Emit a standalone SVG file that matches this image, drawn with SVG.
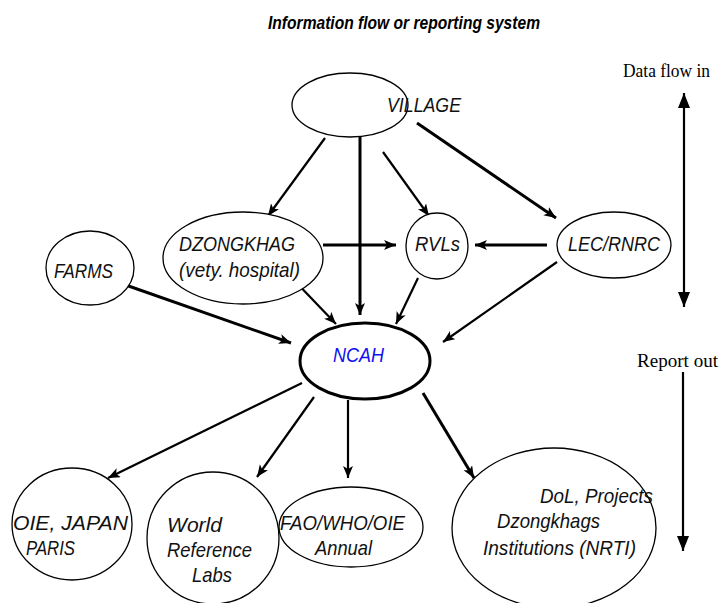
<svg xmlns="http://www.w3.org/2000/svg" width="721" height="603" viewBox="0 0 721 603">
<style>
.node{fill:#fff;stroke:#000;stroke-width:1.3}
.thick{fill:#fff;stroke:#000;stroke-width:3}
.lbl{font-family:"Liberation Sans",Arial,sans-serif;font-style:italic;font-size:21px;fill:#111}
.serif{font-family:"Liberation Serif","Times New Roman",serif;font-size:18px;fill:#000}
.title{font-family:"Liberation Sans",Arial,sans-serif;font-style:italic;font-weight:bold;font-size:18px;fill:#000}
.c{stroke:#000;stroke-width:2.2;fill:none;marker-end:url(#ah)}
.c3{stroke:#000;stroke-width:3;fill:none;marker-end:url(#ah)}
</style>
<defs>
<marker id="ah" markerUnits="userSpaceOnUse" markerWidth="14" markerHeight="12" refX="12" refY="5" orient="auto">
<path d="M0,0 L12,5 L0,10 L3,5 Z" fill="#000"/>
</marker>
<marker id="big" markerUnits="userSpaceOnUse" markerWidth="16" markerHeight="14" refX="15" refY="6" orient="auto-start-reverse">
<path d="M0,0 L15,6 L0,12 Z" fill="#000"/>
</marker>
</defs>
<rect width="721" height="603" fill="#fff"/>
<text class="title" x="268" y="29" textLength="272" lengthAdjust="spacingAndGlyphs">Information flow or reporting system</text>

<g id="connectors">
<line class="c" x1="325" y1="138" x2="268" y2="216"/>
<line class="c3" x1="360" y1="135" x2="360" y2="315"/>
<line class="c" x1="383" y1="152" x2="429" y2="216"/>
<line class="c3" x1="417" y1="123" x2="556" y2="218"/>
<line class="c3" x1="323" y1="245" x2="396" y2="245"/>
<line class="c3" x1="547" y1="245" x2="475" y2="245"/>
<line class="c3" x1="120" y1="283" x2="291" y2="343"/>
<line class="c" x1="290" y1="276" x2="336" y2="324"/>
<line class="c" x1="418" y1="278" x2="396" y2="324"/>
<line class="c" x1="557" y1="262" x2="443" y2="342"/>
<line class="c" x1="302" y1="383" x2="108" y2="478"/>
<line class="c" x1="314" y1="397" x2="257" y2="477"/>
<line class="c" x1="348" y1="400" x2="348" y2="478"/>
<line class="c3" x1="423" y1="393" x2="474" y2="478"/>
<line x1="684" y1="93" x2="684" y2="307" stroke="#000" stroke-width="2.2" marker-start="url(#big)" marker-end="url(#big)"/>
<line x1="683" y1="372" x2="683" y2="551" stroke="#000" stroke-width="2.2" marker-end="url(#big)"/>
</g>

<g id="village">
<ellipse class="node" cx="350" cy="105" rx="58" ry="32"/>
<text class="lbl" x="387" y="112" textLength="74" lengthAdjust="spacingAndGlyphs">VILLAGE</text>
</g>
<g id="dzongkhag">
<ellipse class="node" cx="243" cy="258" rx="80" ry="46"/>
<text class="lbl" x="179" y="251" textLength="116" lengthAdjust="spacingAndGlyphs">DZONGKHAG</text>
<text class="lbl" x="179" y="277" textLength="121" lengthAdjust="spacingAndGlyphs">(vety. hospital)</text>
</g>
<g id="farms">
<ellipse class="node" cx="90" cy="268" rx="44" ry="37"/>
<text class="lbl" x="54" y="278" textLength="59" lengthAdjust="spacingAndGlyphs">FARMS</text>
</g>
<g id="rvls">
<ellipse class="node" cx="437" cy="246" rx="31" ry="33"/>
<text class="lbl" x="415" y="251" textLength="45" lengthAdjust="spacingAndGlyphs">RVLs</text>
</g>
<g id="lec">
<ellipse class="node" cx="614" cy="245" rx="57" ry="33"/>
<text class="lbl" x="568" y="251" textLength="92" lengthAdjust="spacingAndGlyphs">LEC/RNRC</text>
</g>
<g id="ncah">
<ellipse class="thick" cx="365" cy="361" rx="65" ry="38"/>
<text class="lbl" x="333" y="362" textLength="51" lengthAdjust="spacingAndGlyphs" style="fill:#1010ee">NCAH</text>
</g>
<g id="oie">
<ellipse class="node" cx="72" cy="524" rx="60" ry="56"/>
<text class="lbl" x="13" y="530" textLength="115" lengthAdjust="spacingAndGlyphs">OIE, JAPAN</text>
<text class="lbl" x="26" y="555" textLength="49" lengthAdjust="spacingAndGlyphs">PARIS</text>
</g>
<g id="world">
<ellipse class="node" cx="213" cy="538" rx="66" ry="66"/>
<text class="lbl" x="167" y="532" textLength="55" lengthAdjust="spacingAndGlyphs">World</text>
<text class="lbl" x="167" y="557" textLength="85" lengthAdjust="spacingAndGlyphs">Reference</text>
<text class="lbl" x="192" y="582" textLength="40" lengthAdjust="spacingAndGlyphs">Labs</text>
</g>
<g id="fao">
<ellipse class="node" cx="351" cy="527" rx="72" ry="40"/>
<text class="lbl" x="280" y="530" textLength="125" lengthAdjust="spacingAndGlyphs">FAO/WHO/OIE</text>
<text class="lbl" x="315" y="555" textLength="57" lengthAdjust="spacingAndGlyphs">Annual</text>
</g>
<g id="dol">
<ellipse class="node" cx="554" cy="528" rx="102" ry="80"/>
<text class="lbl" x="540" y="503" textLength="113" lengthAdjust="spacingAndGlyphs">DoL, Projects</text>
<text class="lbl" x="497" y="528" textLength="103" lengthAdjust="spacingAndGlyphs">Dzongkhags</text>
<text class="lbl" x="483" y="555" textLength="153" lengthAdjust="spacingAndGlyphs">Institutions (NRTI)</text>
</g>
<g id="side-labels">
<text class="serif" x="623" y="77" textLength="87" lengthAdjust="spacingAndGlyphs">Data flow in</text>
<text class="serif" x="637" y="367" textLength="81" lengthAdjust="spacingAndGlyphs">Report out</text>
</g>
</svg>
